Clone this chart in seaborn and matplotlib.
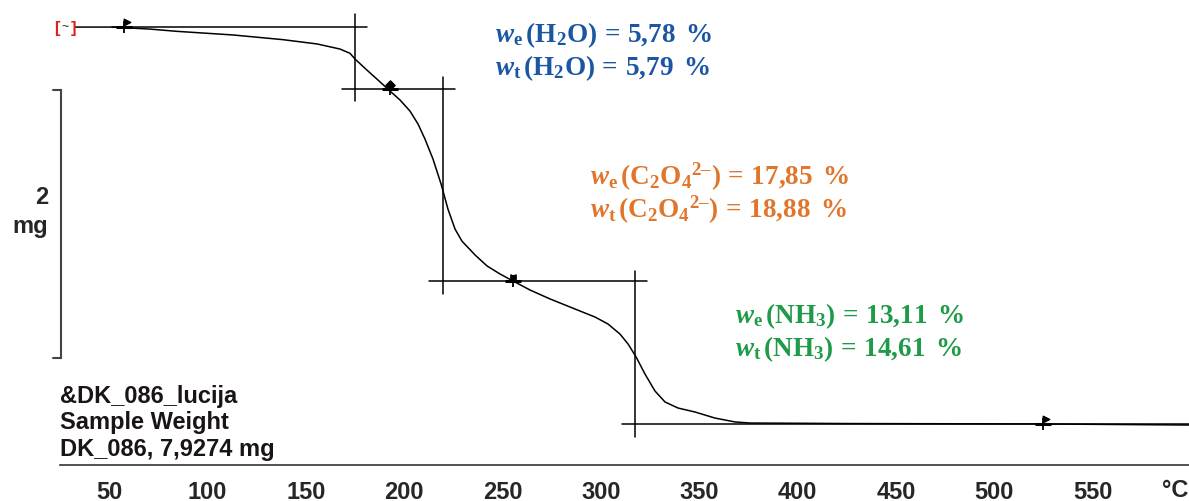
import numpy as np
import pandas as pd
import matplotlib
matplotlib.use("Agg")
import matplotlib.pyplot as plt
import matplotlib.transforms as mtransforms
from matplotlib.ticker import FixedLocator
import seaborn as sns

# ---------------- data ----------------
temperature_c = [32.5, 51.3, 70.6, 84.4, 112.9, 138.3, 155.6, 167.3, 172.4, 174.9,
                 181.0, 186.6, 192.7, 197.8, 202.9, 207.0, 210.5, 214.6, 218.7, 222.2,
                 225.8, 229.3, 236.0, 242.1, 248.7, 255.3, 263.9, 274.1, 286.8, 297.0,
                 303.6, 309.7, 313.8, 317.9, 322.4, 327.5, 332.6, 339.2, 347.9, 358.0,
                 368.2, 375.8, 426.7, 524.9, 599.0]
mass_mg = [7.927, 7.927, 7.912, 7.895, 7.868, 7.833, 7.801, 7.763, 7.731, 7.689,
           7.606, 7.532, 7.450, 7.383, 7.300, 7.203, 7.092, 6.942, 6.756, 6.569,
           6.420, 6.330, 6.226, 6.144, 6.084, 6.032, 5.965, 5.898, 5.823, 5.763,
           5.711, 5.636, 5.562, 5.465, 5.338, 5.211, 5.129, 5.084, 5.054, 5.009,
           4.980, 4.972, 4.968, 4.965, 4.957]

# step-analysis construction lines
step_temps = [175.0, 219.5, 317.5]
step_mass_ranges = [(8.024, 7.375), (7.554, 5.935), (6.107, 4.868)]
plateau_mass = [7.9274, 7.465, 6.032, 4.965]
plateau_temp_ranges = [(51.3, 181.0), (168.3, 225.8), (212.6, 323.4), (310.7, 600.0)]

# software markers on the curve
marker_temps = [57.4, 192.7, 255.3, 524.9]
marker_mass = [7.9274, 7.465, 6.032, 4.965]

x_major = [50, 100, 150, 200, 250, 300, 350, 400, 450, 500, 550]
x_minor = [t for t in range(30, 600, 10) if t % 50 != 0]

label_lines = ["&DK_086_lucija", "Sample Weight", "DK_086, 7,9274 mg"]
scale_mg = 2.0
scale_top_mg = 7.457

NDASH = "\u2013"
ann_blue = [r"$\mathit{w}_{\mathrm{e}}\,(\mathrm{H}_{2}\mathrm{O})\,=\,5{,}78\ \,\%$",
            r"$\mathit{w}_{\mathrm{t}}\,(\mathrm{H}_{2}\mathrm{O})\,=\,5{,}79\ \,\%$"]
ann_orange = [r"$\mathit{w}_{\mathrm{e}}\,(\mathrm{C}_{2}\mathrm{O}_{4}{}^{2" + NDASH + r"})\,=\,17{,}85\ \,\%$",
              r"$\mathit{w}_{\mathrm{t}}\,(\mathrm{C}_{2}\mathrm{O}_{4}{}^{2" + NDASH + r"})\,=\,18{,}88\ \,\%$"]
ann_green = [r"$\mathit{w}_{\mathrm{e}}\,(\mathrm{NH}_{3})\,=\,13{,}11\ \,\%$",
             r"$\mathit{w}_{\mathrm{t}}\,(\mathrm{NH}_{3})\,=\,14{,}61\ \,\%$"]

# ---------------- style ----------------
sns.set_style("white")
plt.rcParams["font.family"] = ["Liberation Sans", "DejaVu Sans"]
plt.rcParams["mathtext.fontset"] = "custom"
plt.rcParams["mathtext.rm"] = "Liberation Serif:bold"
plt.rcParams["mathtext.it"] = "Liberation Serif:italic:bold"
plt.rcParams["mathtext.bf"] = "Liberation Serif:bold"
plt.rcParams["mathtext.default"] = "rm"

W, H = 1189, 502
fig = plt.figure(figsize=(W / 100, H / 100), dpi=100)
ax = fig.add_axes([60 / W, (H - 466) / H, (W - 60) / W, 466 / H])

df = pd.DataFrame({"T": temperature_c, "m": mass_mg})
sns.lineplot(data=df, x="T", y="m", ax=ax, color="black", linewidth=1.1, sort=False)

ax.set_xlim(24.9, 599.1)
ax.set_ylim(4.6587, 8.1364)
ax.set_xlabel("")
ax.set_ylabel("")
ax.set_yticks([])
for s in ["top", "right", "left"]:
    ax.spines[s].set_visible(False)
ax.spines["bottom"].set_color("#333333")
ax.spines["bottom"].set_linewidth(1.2)
ax.xaxis.set_major_locator(FixedLocator(x_major))
ax.xaxis.set_minor_locator(FixedLocator(x_minor))
ax.tick_params(axis="x", which="major", direction="out", length=6, width=1.1,
               color="#333333", pad=4.5, labelsize=17)
ax.tick_params(axis="x", which="minor", direction="out", length=3.8, width=1.1,
               color="#333333")
for lab in ax.get_xticklabels():
    lab.set_fontweight("bold")
ax.text(592, -0.0536, "°C", transform=mtransforms.blended_transform_factory(ax.transData, ax.transAxes),
        ha="center", va="center", fontsize=17, fontweight="bold", clip_on=False)

# construction lines
for t, (m1, m2) in zip(step_temps, step_mass_ranges):
    ax.plot([t, t], [m1, m2], color="black", lw=1.1, clip_on=False)
for m, (t1, t2) in zip(plateau_mass, plateau_temp_ranges):
    ax.plot([t1, t2], [m, m], color="black", lw=1.1, clip_on=False)

# markers
ax.scatter(marker_temps, marker_mass, marker="_", s=130, linewidths=2.2, color="black", zorder=5)
ax.scatter(marker_temps, marker_mass, marker="|", s=80, linewidths=1.3, color="black", zorder=5)
up = mtransforms.offset_copy(ax.transData, fig=fig, x=3, y=5, units="dots")
ax.scatter([marker_temps[0], marker_temps[3]], [marker_mass[0], marker_mass[3]],
           marker=">", s=22, color="black", transform=up, zorder=6)
up2 = mtransforms.offset_copy(ax.transData, fig=fig, x=0, y=4, units="dots")
ax.scatter([marker_temps[1]], [marker_mass[1]], marker="D", s=22, color="black",
           transform=up2, zorder=6)
ax.scatter([marker_temps[2]], [marker_mass[2]], marker=">", s=14, color="black",
           transform=up2, zorder=6)
ax.scatter([marker_temps[2]], [marker_mass[2]], marker="<", s=14, color="black",
           transform=up2, zorder=6)

# red start marker: red brackets with a dark tilde between them
ax.text(23.2, mass_mg[0], "[", color="#e0201b", fontsize=12,
        fontweight="bold", ha="center", va="center", clip_on=False)
ax.text(27.4, mass_mg[0] + 0.01, "~", color="#222222", fontsize=9,
        ha="center", va="center", clip_on=False)
ax.text(31.8, mass_mg[0], "]", color="#e0201b", fontsize=12,
        fontweight="bold", ha="center", va="center", clip_on=False)

# scale bar (2 mg)
bar_x = 25.4
ax.plot([bar_x - 4.1, bar_x, bar_x, bar_x - 4.1],
        [scale_top_mg, scale_top_mg, scale_top_mg - scale_mg, scale_top_mg - scale_mg],
        color="#444444", lw=1.5, clip_on=False, solid_joinstyle="miter")
fig.text(48 / W, 1 - 198 / H, "2", ha="right", va="center", fontsize=17, fontweight="bold")
fig.text(48 / W, 1 - 227 / H, "mg", ha="right", va="center", fontsize=17, fontweight="bold")

# sample label text
for txt, yc in zip(label_lines, [397, 423, 450]):
    fig.text(60 / W, 1 - yc / H, txt, ha="left", va="center", fontsize=17,
             fontweight="bold", color="#1a1414")

# result annotations
def ann(lines, x, baselines, color):
    for s, b in zip(lines, baselines):
        fig.text(x / W, 1 - b / H, s, ha="left", va="baseline", fontsize=19.5, color=color)

ann(ann_blue, 495, [42, 75], "#1b56a3")
ann(ann_orange, 590, [185, 218], "#e0762b")
ann(ann_green, 735, [323, 356], "#1f9a48")

fig.savefig("out.png", dpi=100)
